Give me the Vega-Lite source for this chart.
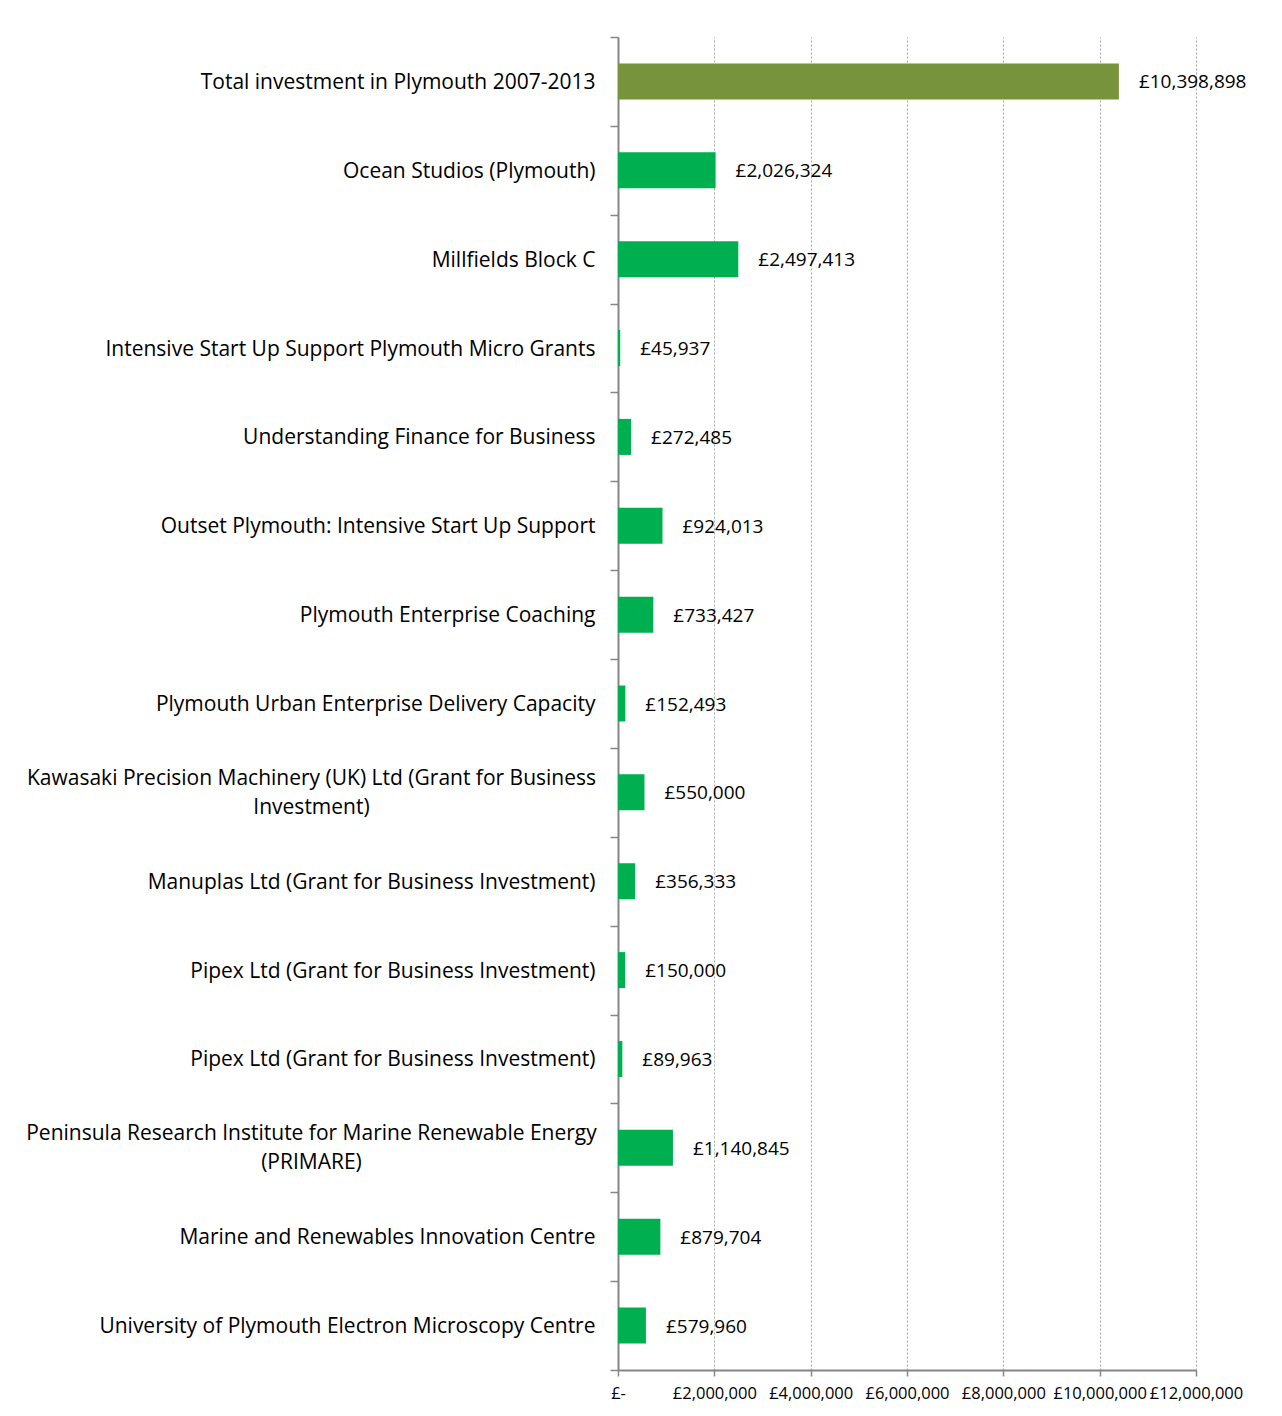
{
  "$schema": "https://vega.github.io/schema/vega-lite/v6.json",
  "autosize": "none",
  "width": 578,
  "height": 1333,
  "padding": {"left": 618, "top": 37, "right": 86, "bottom": 46},
  "background": "white",
  "config": {
    "view": {"stroke": null},
    "font": "Open Sans",
    "locale": {"number": {"decimal": ".", "thousands": ",", "grouping": [3], "currency": ["£", ""]}}
  },
  "data": {
    "values": [
      {"project": "Total investment in Plymouth 2007-2013", "amount": 10398898, "kind": "total"},
      {"project": "Ocean Studios (Plymouth)", "amount": 2026324, "kind": "project"},
      {"project": "Millfields Block C", "amount": 2497413, "kind": "project"},
      {"project": "Intensive Start Up Support Plymouth Micro Grants", "amount": 45937, "kind": "project"},
      {"project": "Understanding Finance for Business", "amount": 272485, "kind": "project"},
      {"project": "Outset Plymouth: Intensive Start Up Support", "amount": 924013, "kind": "project"},
      {"project": "Plymouth Enterprise Coaching", "amount": 733427, "kind": "project"},
      {"project": "Plymouth Urban Enterprise Delivery Capacity", "amount": 152493, "kind": "project"},
      {"project": "Kawasaki Precision Machinery (UK) Ltd (Grant for Business Investment)", "amount": 550000, "kind": "project"},
      {"project": "Manuplas Ltd (Grant for Business Investment)", "amount": 356333, "kind": "project"},
      {"project": "Pipex Ltd (Grant for Business Investment)", "amount": 150000, "kind": "project"},
      {"project": "Pipex Ltd (Grant for Business Investment) ", "amount": 89963, "kind": "project"},
      {"project": "Peninsula Research Institute for Marine Renewable Energy (PRIMARE)", "amount": 1140845, "kind": "project"},
      {"project": "Marine and Renewables Innovation Centre", "amount": 879704, "kind": "project"},
      {"project": "University of Plymouth Electron Microscopy Centre", "amount": 579960, "kind": "project"}
    ]
  },
  "encoding": {
    "y": {
      "field": "project",
      "type": "nominal",
      "sort": null,
      "scale": {"paddingInner": 0, "paddingOuter": 0},
      "axis": {
        "title": null,
        "domainColor": "#868686",
        "domainWidth": 2,
        "tickColor": "#868686",
        "tickWidth": 1.5,
        "tickSize": 8,
        "tickBand": "extent",
        "tickExtra": true,
        "labelFontSize": 21,
        "labelColor": "black",
        "labelLimit": 700,
        "labelLineHeight": 29,
        "labelAlign": {"condition": {"test": "indexof(datum.label,'Kawasaki')==0 || indexof(datum.label,'Peninsula')==0", "value": "center"}, "value": "right"},
        "labelPadding": {"condition": {"test": "indexof(datum.label,'Kawasaki')==0 || indexof(datum.label,'Peninsula')==0", "value": 299}, "value": 15},
        "labelOffset": {"condition": {"test": "indexof(datum.label,'Kawasaki')==0 || indexof(datum.label,'Peninsula')==0", "value": -14}, "value": 1},
        "labelExpr": "indexof(datum.label,'Kawasaki')==0 ? ['Kawasaki Precision Machinery (UK) Ltd (Grant for Business','Investment)'] : indexof(datum.label,'Peninsula')==0 ? ['Peninsula Research Institute for Marine Renewable Energy','(PRIMARE)'] : trim(datum.label)"
      }
    },
    "x": {
      "field": "amount",
      "type": "quantitative",
      "scale": {"domain": [0, 12000000], "nice": false},
      "axis": {
        "title": null,
        "values": [0, 2000000, 4000000, 6000000, 8000000, 10000000, 12000000],
        "labelExpr": "datum.value == 0 ? '£-' : '£' + format(datum.value, ',')",
        "labelFontSize": 16.5,
        "labelColor": "black",
        "labelPadding": 9,
        "domainColor": "#868686",
        "domainWidth": 2,
        "tickColor": "#868686",
        "tickWidth": 1.5,
        "tickSize": 6,
        "grid": true,
        "gridColor": "#a8a8a8",
        "gridDash": [2, 2],
        "gridWidth": 1,
        "labelFlush": false,
        "labelOverlap": false
      }
    }
  },
  "layer": [
    {
      "mark": {"type": "bar", "size": 36},
      "encoding": {
        "color": {
          "field": "kind",
          "type": "nominal",
          "scale": {"domain": ["total", "project"], "range": ["#77933C", "#00B050"]},
          "legend": null
        }
      }
    },
    {
      "mark": {"type": "text", "align": "left", "baseline": "middle", "dx": 20, "dy": 1, "fontSize": 19, "color": "black"},
      "encoding": {
        "text": {"field": "amount", "type": "quantitative", "format": "$,"}
      }
    }
  ]
}
